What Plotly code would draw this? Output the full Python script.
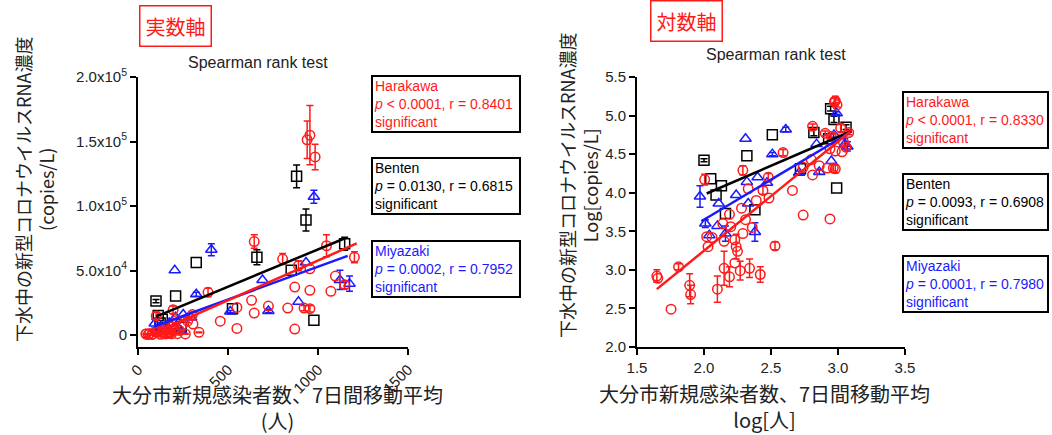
import numpy as np
import plotly.graph_objects as go

W, H = 1052, 435

# ---------------- data (log10 values) ----------------
# Harakawa (red circles)
harakawa_logx = [1.648, 1.655, 1.754, 1.81, 1.893, 1.90, 2.005, 2.02, 2.03, 2.06,
                 2.10, 2.14, 2.15, 2.19, 2.19, 2.20, 2.23, 2.24, 2.25, 2.23,
                 2.27, 2.29, 2.29, 2.28, 2.31, 2.33, 2.34, 2.36, 2.39, 2.42,
                 2.44, 2.485, 2.48, 2.53, 2.59, 2.66, 2.74, 2.74, 2.80, 2.81,
                 2.81, 2.86, 2.905, 2.92, 2.94, 2.94, 2.95, 2.965, 2.98, 2.973,
                 2.98, 2.993, 2.98, 2.98, 3.02, 3.03, 3.06, 3.08, 3.04, 2.15]
harakawa_logy = [2.92, 2.89, 2.49, 3.04, 2.80, 2.68, 4.17, 3.43, 3.30, 3.42,
                 2.75, 3.60, 3.02, 2.91, 3.72, 3.56, 3.39, 3.30, 3.24, 3.09,
                 2.99, 3.47, 4.29, 3.80, 3.65, 4.05, 3.02, 3.55, 3.90, 2.94,
                 4.03, 3.93, 4.20, 3.31, 4.52, 4.03, 3.71, 4.33, 4.43, 4.86,
                 4.23, 4.35, 4.77, 4.32, 3.66, 4.57, 4.73, 4.32, 4.31, 5.18,
                 5.19, 5.14, 4.71, 4.54, 4.84, 4.53, 4.59, 4.78, 4.66, 3.37]
harakawa_logerr = [0.08, 0.0, 0.0, 0.04, 0.15, 0.12, 0.07, 0.0, 0.0, 0.0,
                   0.17, 0.0, 0.22, 0.13, 0.0, 0.0, 0.0, 0.16, 0.0, 0.0,
                   0.12, 0.0, 0.06, 0.0, 0.0, 0.0, 0.12, 0.0, 0.0, 0.10,
                   0.05, 0.0, 0.05, 0.05, 0.04, 0.0, 0.0, 0.0, 0.0, 0.03,
                   0.0, 0.0, 0.03, 0.0, 0.0, 0.0, 0.03, 0.04, 0.05, 0.04,
                   0.06, 0.03, 0.0, 0.0, 0.05, 0.0, 0.03, 0.03, 0.0, 0.0]

# Benten (black squares)
benten_logx = [2.00, 2.05, 2.13, 2.09, 2.16, 2.38, 2.32, 2.51, 2.72, 2.82,
               2.93, 2.945, 2.97, 2.99, 3.06]
benten_logy = [4.42, 4.18, 4.09, 3.97, 3.73, 3.78, 4.48, 4.75, 4.31, 4.78,
               4.70, 5.09, 4.95, 4.06, 4.85]
benten_logerr = [0.02, 0.0, 0.0, 0.0, 0.0, 0.0, 0.0, 0.0, 0.0, 0.04,
                 0.0, 0.03, 0.04, 0.0, 0.03]

# Miyazaki (blue triangles)
miyazaki_logx = [1.97, 2.01, 2.04, 2.10, 2.11, 2.16, 2.24, 2.31, 2.32, 2.33,
                 2.38, 2.40, 2.47, 2.51, 2.61, 2.71, 2.84, 2.86, 2.95, 2.97,
                 2.99, 3.05, 3.07]
miyazaki_logy = [3.95, 3.60, 3.45, 3.57, 3.86, 3.47, 3.97, 4.70, 4.14, 3.86,
                 3.49, 4.20, 4.13, 4.50, 4.82, 4.26, 4.63, 4.27, 4.41, 4.75,
                 5.03, 4.63, 4.60]
miyazaki_logerr = [0.14, 0.05, 0.0, 0.0, 0.0, 0.10, 0.0, 0.0, 0.0, 0.0,
                   0.12, 0.0, 0.0, 0.02, 0.03, 0.02, 0.0, 0.03, 0.0, 0.0,
                   0.02, 0.07, 0.06]

# Regression line end points
fit_lin = {  # (x0, x1), (y0, y1) in persons / copies per L
    "Harakawa": ([35, 1215], [-1800, 71000]),
    "Benten": ([100, 1150], [14300, 75000]),
    "Miyazaki": ([90, 1165], [6600, 61400]),
}
fit_log = {
    "Harakawa": ([1.648, 3.09], [2.75, 4.79]),
    "Benten": ([2.02, 3.09], [3.99, 4.79]),
    "Miyazaki": ([1.98, 3.09], [3.63, 4.78]),
}

lin_yticks = [0, 50000, 100000, 150000, 200000]
lin_yticktext = ["0", "5.0x10<sup>4</sup>", "1.0x10<sup>5</sup>",
                 "1.5x10<sup>5</sup>", "2.0x10<sup>5</sup>"]
lin_xticks = [0, 500, 1000, 1500]
log_xticks = [1.5, 2.0, 2.5, 3.0, 3.5]
log_yticks = [2.0, 2.5, 3.0, 3.5, 4.0, 4.5, 5.0, 5.5]

stats_lin = {
    "Harakawa": "<i>p</i> &lt; 0.0001, r = 0.8401",
    "Benten": "<i>p</i> = 0.0130, r = 0.6815",
    "Miyazaki": "<i>p</i> = 0.0002, r = 0.7952",
}
stats_log = {
    "Harakawa": "<i>p</i> &lt; 0.0001, r = 0.8330",
    "Benten": "<i>p</i> = 0.0093, r = 0.6908",
    "Miyazaki": "<i>p</i> = 0.0001, r = 0.7980",
}

# ---------------- styling ----------------
RED, BLACK, BLUE = "#ff1a1a", "#000000", "#1a1aff"
LATIN = "Liberation Sans, Arial, Noto Sans CJK JP, sans-serif"
CJK = "Noto Sans CJK JP, Liberation Sans, sans-serif"
TXT = "#222222"

series = [
    ("Benten", benten_logx, benten_logy, benten_logerr, BLACK, "square-open", 10),
    ("Miyazaki", miyazaki_logx, miyazaki_logy, miyazaki_logerr, BLUE, "triangle-up-open", 10),
    ("Harakawa", harakawa_logx, harakawa_logy, harakawa_logerr, RED, "circle-open", 9.5),
]


def px(x):
    return x / W


def py(y):
    return 1 - y / H


fig = go.Figure()


def add_points(x, y, e, col, sym, size, xa, ya, name):
    has = e > 0
    marker = dict(symbol=sym, size=size, color=col, line=dict(width=1.5, color=col))
    fig.add_trace(go.Scatter(x=x[~has], y=y[~has], mode="markers", xaxis=xa, yaxis=ya,
                             name=name, marker=marker, showlegend=False, cliponaxis=False))
    fig.add_trace(go.Scatter(x=x[has], y=y[has], mode="markers", xaxis=xa, yaxis=ya,
                             name=name, marker=marker, showlegend=False, cliponaxis=False,
                             error_y=dict(type="data", array=e[has], visible=True,
                                          color=col, thickness=1.5, width=3.5)))


for name, lx, ly, le, col, sym, size in series:
    lx = np.array(lx)
    ly = np.array(ly)
    le = np.array(le)
    xl = 10 ** lx
    yl = 10 ** ly
    el = yl * (10 ** le - 1)
    add_points(xl, yl, el, col, sym, size, "x", "y", name)      # linear panel
    add_points(lx, ly, le, col, sym, size, "x2", "y2", name)    # log panel

for name, lx, ly, le, col, sym, size in series:
    fx, fy = fit_lin[name]
    fig.add_trace(go.Scatter(x=fx, y=fy, mode="lines", xaxis="x", yaxis="y",
                             line=dict(color=col, width=2.5), showlegend=False))
    fx, fy = fit_log[name]
    fig.add_trace(go.Scatter(x=fx, y=fy, mode="lines", xaxis="x2", yaxis="y2",
                             line=dict(color=col, width=2.5), showlegend=False))

axis_common = dict(showline=True, linecolor="black", linewidth=2, ticks="outside",
                   ticklen=6, tickwidth=2, tickcolor="black", showgrid=False,
                   zeroline=False, automargin=False,
                   tickfont=dict(family=LATIN, size=15, color=TXT))

fig.update_layout(
    template="none",
    width=W, height=H, margin=dict(l=0, r=0, t=0, b=0, pad=0, autoexpand=False),
    paper_bgcolor="white", plot_bgcolor="white",
    xaxis=dict(domain=[px(138), px(408)], range=[0, 1500], tickvals=lin_xticks,
               tickangle=-45, anchor="y", **axis_common),
    yaxis=dict(domain=[py(347), py(77)], range=[-9300, 200000], tickvals=lin_yticks,
               ticktext=lin_yticktext, anchor="x", **axis_common),
    xaxis2=dict(domain=[px(637), px(905)], range=[1.5, 3.5], tickvals=log_xticks,
                tickformat=".1f", anchor="y2", **axis_common),
    yaxis2=dict(domain=[py(347), py(77)], range=[2.0, 5.5], tickvals=log_yticks,
                tickformat=".1f", anchor="x2", **axis_common),
)

ann = []


def label(text, x, y, size, family, color=TXT, angle=0, **kw):
    d = dict(text=text, x=px(x), y=py(y), xref="paper", yref="paper",
             xanchor="center", yanchor="middle", showarrow=False, textangle=angle,
             font=dict(family=family, size=size, color=color))
    d.update(kw)
    ann.append(d)


# boxed panel labels
label("実数軸", 175.5, 26, 20, CJK, RED, bordercolor=RED, borderwidth=1.5, borderpad=5, bgcolor="white")
label("対数軸", 686, 20.5, 20, CJK, RED, bordercolor=RED, borderwidth=1.5, borderpad=5, bgcolor="white")
# titles
label("Spearman rank test", 258, 62, 16, LATIN)
label("Spearman rank test", 776, 55, 16, LATIN)
# axis titles
label("下水中の新型コロナウイルスRNA濃度<br>(copies/L)", 34, 190, 18, CJK, angle=-90)
label("下水中の新型コロナウイルスRNA濃度<br>Log[copies/L]", 579, 186, 18, CJK, angle=-90)
label("大分市新規感染者数、7日間移動平均<br>(人)", 277, 407, 20, CJK)
label("大分市新規感染者数、7日間移動平均<br>log[人]", 764, 406, 20, CJK)

# statistics boxes
box_cols = {"Harakawa": RED, "Benten": BLACK, "Miyazaki": BLUE}
lin_tops = {"Harakawa": 75, "Benten": 157, "Miyazaki": 240}
log_tops = {"Harakawa": 91, "Benten": 173, "Miyazaki": 255}
for name in ["Harakawa", "Benten", "Miyazaki"]:
    for xleft, tops, stats, w in [(371, lin_tops, stats_lin, 144), (902, log_tops, stats_log, 141)]:
        ann.append(dict(text=f"{name}<br>{stats[name]}<br>significant",
                        x=px(xleft), y=py(tops[name]), xref="paper", yref="paper",
                        xanchor="left", yanchor="top", align="left", showarrow=False,
                        width=w, borderpad=1, bordercolor="black", borderwidth=2,
                        bgcolor="white",
                        font=dict(family=LATIN, size=14, color=box_cols[name])))

fig.update_layout(annotations=ann)
fig.write_html("out.html")
